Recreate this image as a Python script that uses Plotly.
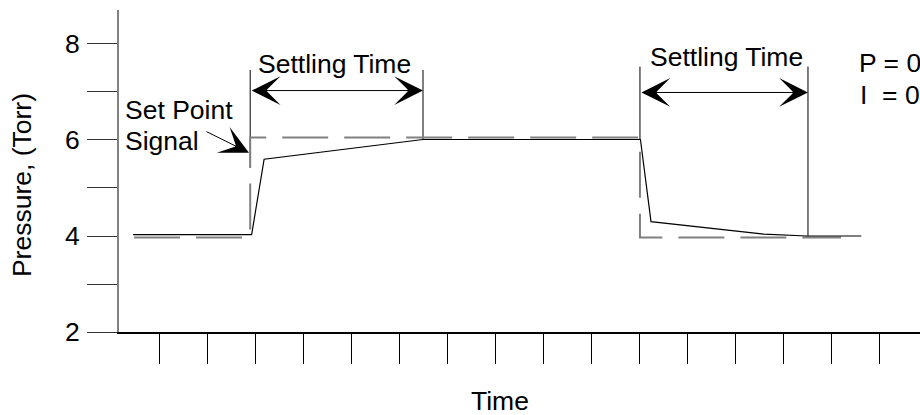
import plotly.graph_objects as go

# ---------------- data ----------------
time_response = [0.46, 2.93, 3.19, 6.5, 11.03, 11.25, 13.6, 14.5, 15.63]
pressure_response = [4.03, 4.03, 5.6, 6.01, 6.01, 4.30, 4.04, 4.0, 4.0]

time_setpoint = [0.48, 2.9, 2.9, 11.02, 11.02, 15.21]
pressure_setpoint = [3.97, 3.97, 6.05, 6.05, 3.97, 3.97]

settle_start = [2.9, 11.02]
settle_end = [6.5, 14.52]
settle_top = [7.46, 7.53]
settle_start_bottom = [5.42, 6.0]
settle_end_bottom = [6.02, 4.0]
settle_arrow_y = [7.03, 6.99]
settle_label = ["Settling Time", "Settling Time"]
settle_label_x = [4.65, 12.82]
settle_label_y = [7.58, 7.73]

y_tickvals = [2, 3, 4, 5, 6, 7, 8]
y_ticktext = ["2", "", "4", "", "6", "", "8"]
x_tickvals = list(range(1, 17))

FONT = "Liberation Sans, Arial, sans-serif"
FS = 26.5
HEAD = 4.8

fig = go.Figure()

# settling-time marker verticals
mx, my = [], []
for s, e, top, sb, eb in zip(settle_start, settle_end, settle_top,
                              settle_start_bottom, settle_end_bottom):
    mx += [s, s, None, e, e, None]
    my += [top, sb, None, top, eb, None]
fig.add_trace(go.Scatter(x=mx, y=my, mode="lines",
                         line=dict(color="black", width=1),
                         hoverinfo="skip", showlegend=False))

# set point (dashed)
fig.add_trace(go.Scatter(x=time_setpoint, y=pressure_setpoint, mode="lines",
                         line=dict(color="#808080", width=2, dash="46px,16px"),
                         showlegend=False))

# pressure response (solid)
fig.add_trace(go.Scatter(x=time_response, y=pressure_response, mode="lines",
                         line=dict(color="black", width=1.2),
                         showlegend=False))

# double arrows + labels
for s, e, ay, lab, lx, ly in zip(settle_start, settle_end, settle_arrow_y,
                                 settle_label, settle_label_x, settle_label_y):
    fig.add_annotation(x=e, y=ay, ax=s, ay=ay, xref="x", yref="y",
                       axref="x", ayref="y", text="", showarrow=True,
                       arrowhead=3, startarrowhead=3, arrowside="end+start",
                       arrowsize=HEAD, startarrowsize=HEAD, arrowwidth=1,
                       arrowcolor="black", standoff=0, startstandoff=0)
    fig.add_annotation(x=lx, y=ly, xref="x", yref="y", text=lab,
                       showarrow=False, xanchor="center", yanchor="middle",
                       font=dict(family=FONT, size=FS, color="black"))

# set point signal arrow
fig.add_annotation(x=2.875, y=5.735, ax=1.958, ay=6.19, xref="x", yref="y",
                   axref="x", ayref="y", text="", showarrow=True,
                   arrowhead=3, arrowsize=HEAD, arrowwidth=1,
                   arrowcolor="black", standoff=0)
fig.add_annotation(x=0.25, y=6.625, xref="x", yref="y", text="Set Point",
                   showarrow=False, xanchor="left", yanchor="middle",
                   font=dict(family=FONT, size=FS, color="black"))
fig.add_annotation(x=0.25, y=5.98, xref="x", yref="y", text="Signal",
                   showarrow=False, xanchor="left", yanchor="middle",
                   font=dict(family=FONT, size=FS, color="black"))

# P / I labels
fig.add_annotation(x=15.54, y=7.60, xref="x", yref="y", text="P = 0",
                   showarrow=False, xanchor="left", yanchor="middle",
                   font=dict(family=FONT, size=FS, color="black"))
fig.add_annotation(x=15.56, y=6.93, xref="x", yref="y", text="I \u00a0= 0",
                   showarrow=False, xanchor="left", yanchor="middle",
                   font=dict(family=FONT, size=FS, color="black"))

# axis titles
fig.add_annotation(x=0.4757, y=-0.214, xref="paper", yref="paper", text="Time",
                   showarrow=False, xanchor="center", yanchor="middle",
                   font=dict(family=FONT, size=FS, color="black"))
fig.add_annotation(x=-0.121, y=0.4565, xref="paper", yref="paper",
                   text="Pressure, (Torr)", textangle=-90,
                   showarrow=False, xanchor="center", yanchor="middle",
                   font=dict(family=FONT, size=FS, color="black"))

fig.update_xaxes(range=[0.1667, 16.854], showgrid=False, zeroline=False,
                 showline=True, linecolor="black", linewidth=1.5,
                 ticks="outside", ticklen=30, tickwidth=1, tickcolor="black",
                 tickvals=x_tickvals, showticklabels=False, fixedrange=True)
fig.update_yaxes(range=[2, 8.708], showgrid=False, zeroline=False,
                 showline=True, linecolor="#808080", linewidth=2,
                 ticks="outside", ticklen=30, tickwidth=1, tickcolor="#333333",
                 tickvals=y_tickvals, ticktext=y_ticktext,
                 ticklabelstandoff=2,
                 tickfont=dict(family=FONT, size=FS, color="black"),
                 fixedrange=True)

fig.update_layout(width=920, height=415,
                  margin=dict(l=119, r=0, t=10, b=83),
                  plot_bgcolor="white", paper_bgcolor="white",
                  showlegend=False)

fig.write_html("out.html",
               config={"displayModeBar": False},
               post_script="document.body.style.margin='0';"
                           "document.body.style.overflow='hidden';")
